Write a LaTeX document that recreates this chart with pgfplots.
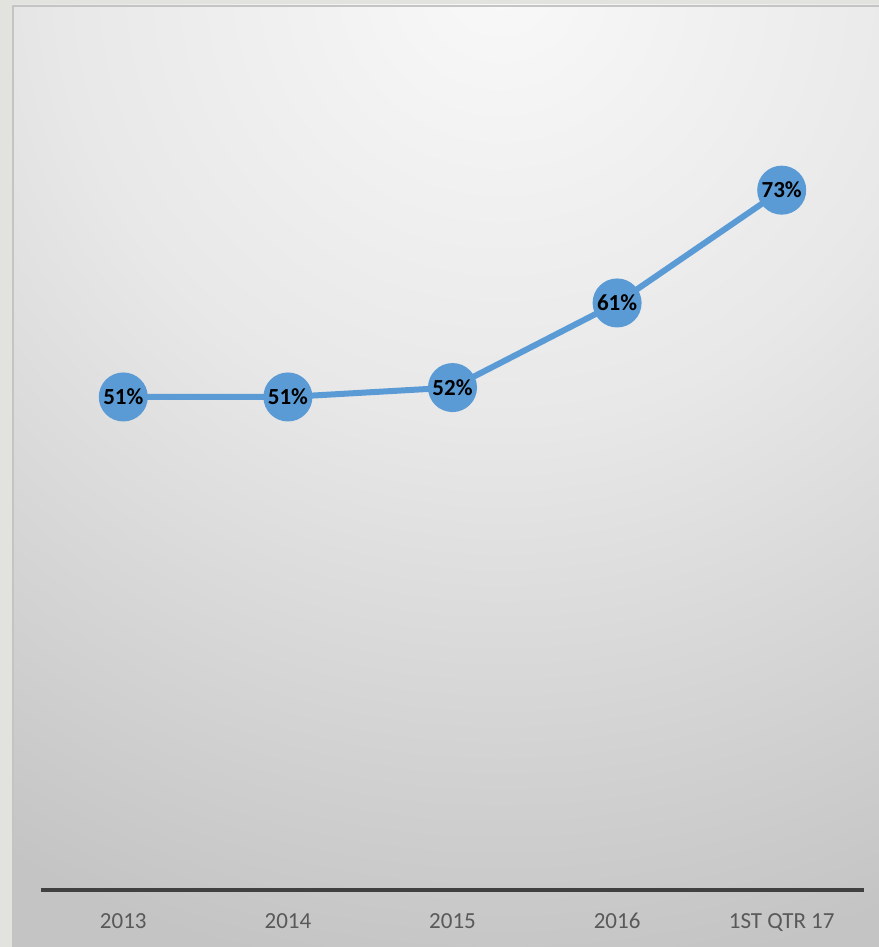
\documentclass[border=0pt]{standalone}
\usepackage{pgfplots}
\pgfplotsset{compat=1.18}
\usepackage{fontspec}
\setmainfont{Carlito}
\pgfdeclareradialshading{bgshade}{\pgfpoint{0bp}{0bp}}{rgb(0bp)=(0.975,0.975,0.975); rgb(11bp)=(0.91,0.91,0.91); rgb(25bp)=(0.77,0.77,0.77); rgb(50bp)=(0.77,0.77,0.77)}
\definecolor{serieblue}{HTML}{5B9BD5}
\definecolor{ticktext}{HTML}{595959}
\definecolor{axisdark}{HTML}{404040}
\definecolor{outerbg}{RGB}{226,227,222}
\definecolor{panelborder}{RGB}{196,196,196}
\begin{document}
\begin{tikzpicture}[x=1bp,y=1bp]
\useasboundingbox (0,0) rectangle (879,947);
\fill[outerbg] (0,0) rectangle (879,947);
\begin{scope}
\clip (12,0) rectangle (879,942);
\shade[shading=bgshade] (-500,-33) rectangle (1500,1967);
\end{scope}
\draw[line width=2bp, panelborder] (13,0) -- (13,941) -- (879,941);
\begin{axis}[
  at={(41bp,57bp)}, anchor=south west,
  scale only axis, width=823bp, height=885bp,
  xmin=-0.5, xmax=4.5, ymin=-1.45, ymax=92.7,
  axis x line=bottom, axis y line=none,
  x axis line style={draw=axisdark, line width=3.3bp, -},
  xtick={0,1,2,3,4},
  xticklabels={2013,2014,2015,2016,1ST QTR 17},
  major tick length=0pt,
  ytick=\empty,
  xticklabel style={anchor=base, yshift=-39bp, text=ticktext, font=\fontsize{23bp}{27bp}\selectfont},
  /pgf/number format/assume math mode=true,
  clip=false,
]
\addplot[color=serieblue, line width=6bp, mark=*, mark size=21.5bp,
  mark options={fill=serieblue, draw=none},
  nodes near coords={\pgfmathprintnumber[assume math mode=true]{\pgfplotspointmeta}\%},
  every node near coord/.append style={anchor=center, text=black, font=\bfseries\fontsize{23bp}{27bp}\selectfont}]
  coordinates {(0,51) (1,51) (2,52) (3,61) (4,73)};
\end{axis}
\end{tikzpicture}
\end{document}
